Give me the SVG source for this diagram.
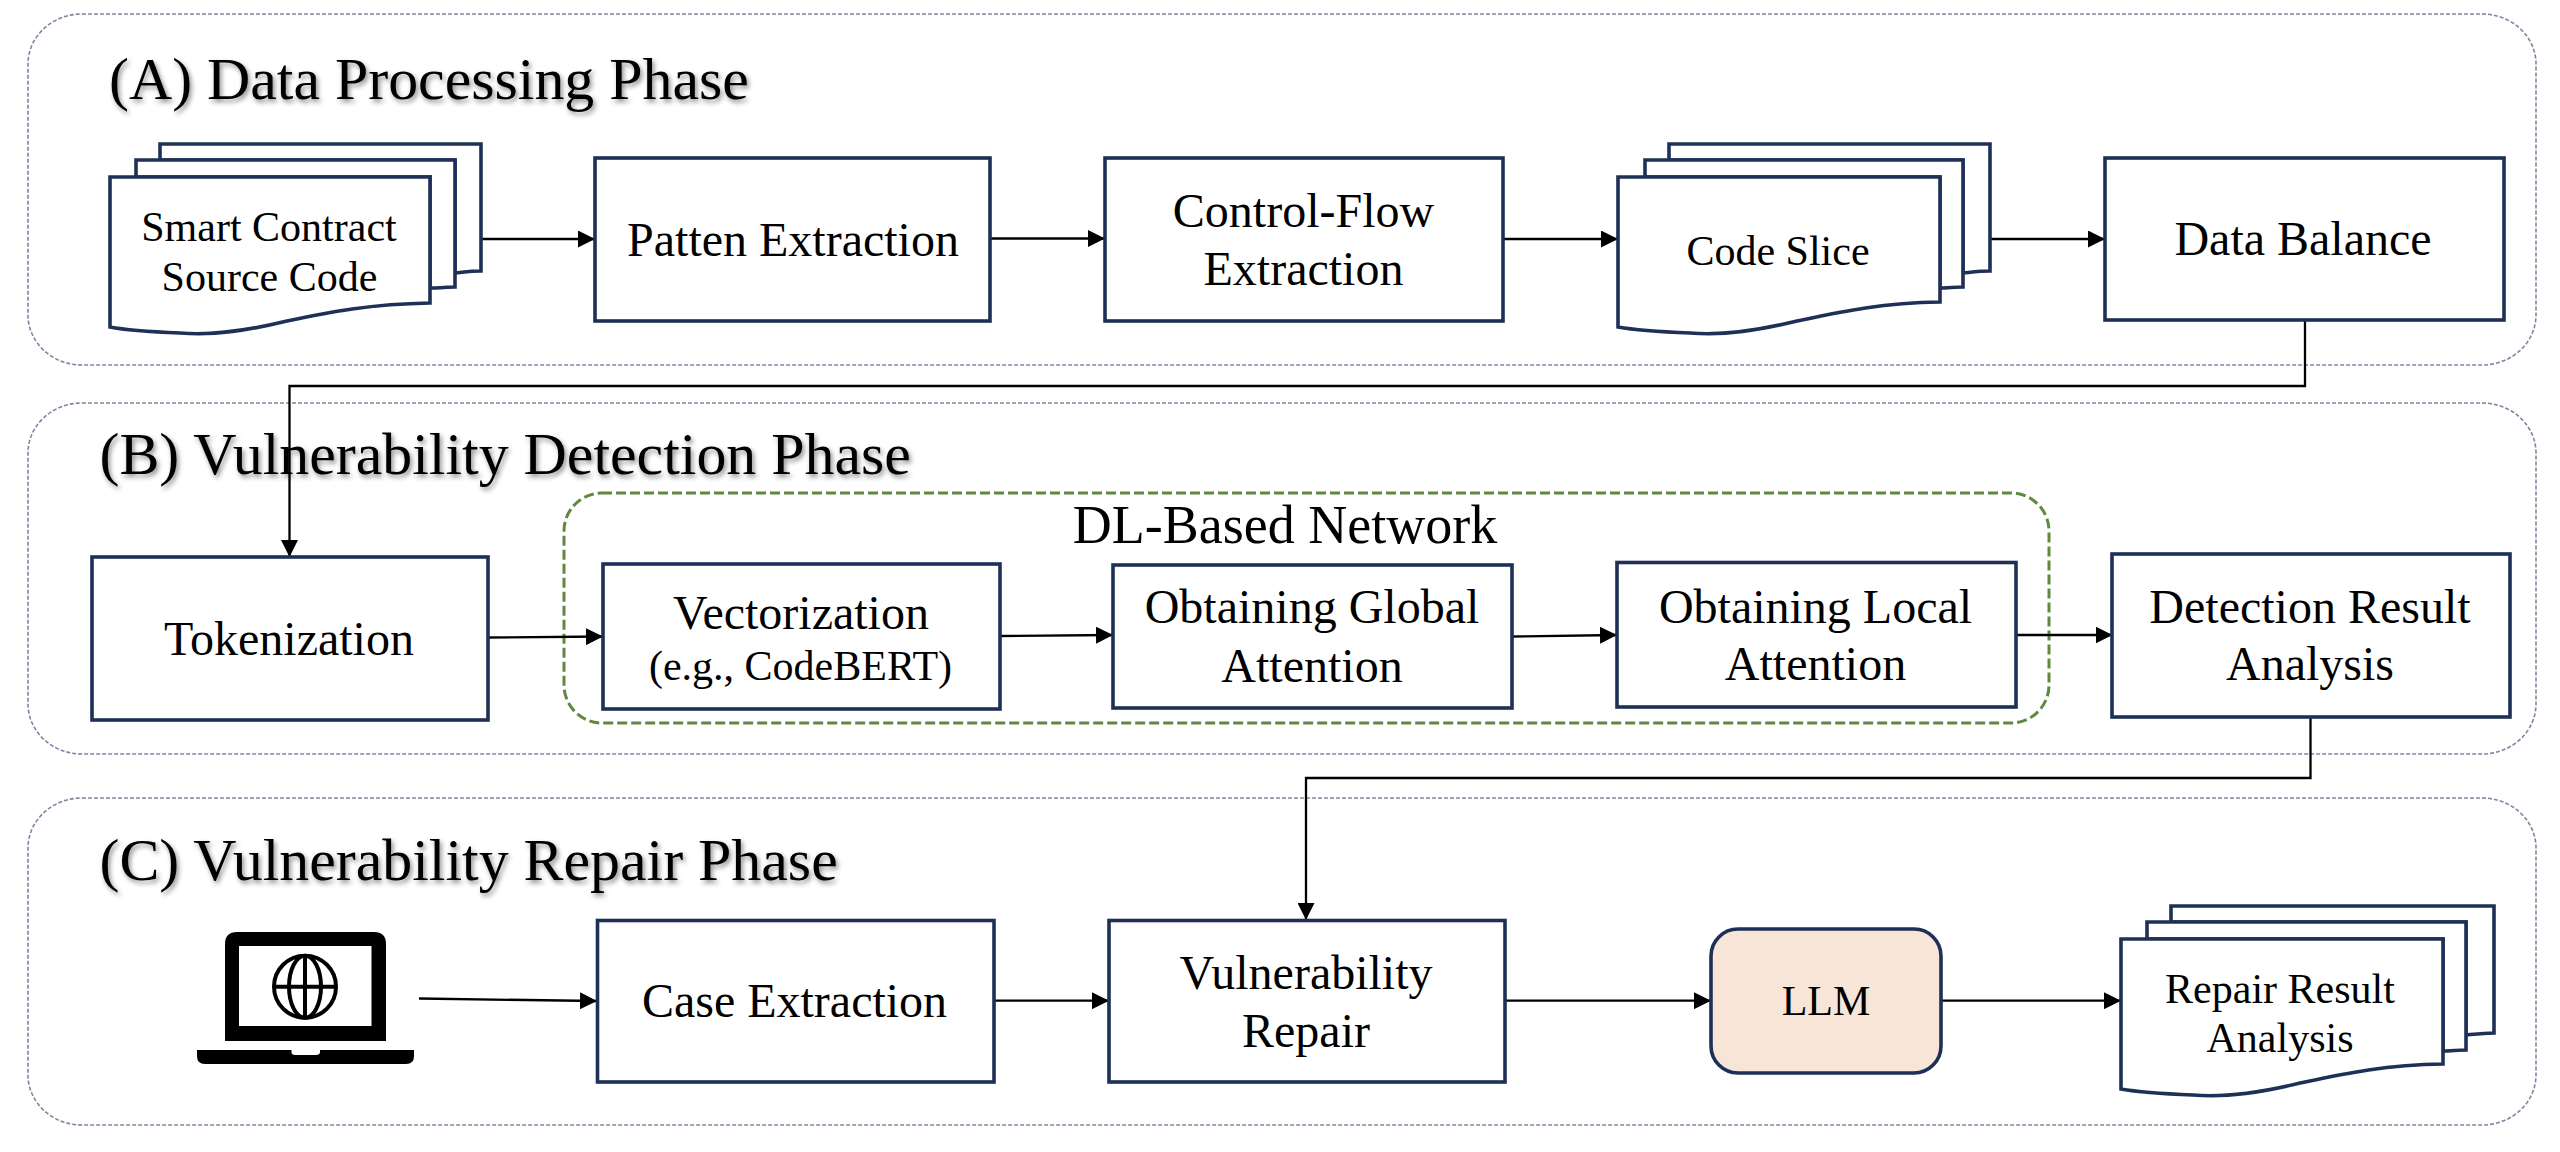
<svg xmlns="http://www.w3.org/2000/svg" width="2560" height="1152" viewBox="0 0 2560 1152">
<style>
text{font-family:"Liberation Serif","Times New Roman",serif;fill:#000;text-anchor:middle}
.t{font-size:59.850px;text-anchor:start;filter:url(#sh)}
.l{font-size:48px}
.s{font-size:42px}
.d{font-size:54px}
.panel{fill:none;stroke:#7f859f;stroke-width:1.6;stroke-dasharray:4 2}
.b{fill:#fff;stroke:#1f3056;stroke-width:3.6}
.dl{fill:none;stroke:#5f8a3e;stroke-width:3;stroke-dasharray:10 4}
.c{fill:none;stroke:#000;stroke-width:2.3;marker-end:url(#a)}
.k{fill:#000}
</style>
<defs>
<marker id="a" markerUnits="userSpaceOnUse" markerWidth="17" markerHeight="17" refX="17" refY="8.500" orient="auto"><path d="M0 0L17 8.500L0 17Z" fill="#000"/></marker>
<filter id="sh" x="-5%" y="-20%" width="110%" height="150%"><feDropShadow dx="2" dy="3" stdDeviation="2.5" flood-color="#000" flood-opacity="0.45"/></filter>
</defs>
<g id="panels">
<rect class="panel" x="28" y="14" width="2508" height="351" rx="54" ry="50"/>
<rect class="panel" x="28" y="403" width="2508" height="351" rx="54" ry="50"/>
<rect class="panel" x="28" y="798" width="2508" height="327" rx="54" ry="50"/>
<text class="t" x="109" y="99">(A) Data Processing Phase</text>
<text class="t" x="99.500" y="474">(B) Vulnerability Detection Phase</text>
<text class="t" x="99.500" y="880">(C) Vulnerability Repair Phase</text>
</g>
<g id="dl-network"><rect class="dl" x="564" y="493" width="1485" height="230" rx="38" ry="38"/><text class="d" x="1285" y="543">DL-Based Network</text></g>
<g id="connectors">
<path class="c" d="M481 239H595"/>
<path class="c" d="M990 238.500H1105"/>
<path class="c" d="M1503 239H1618"/>
<path class="c" d="M1990 239H2105"/>
<path class="c" d="M2305 320V386H289.500V557"/>
<path class="c" d="M488 637.500L603 636.500"/>
<path class="c" d="M1000 636L1113 635"/>
<path class="c" d="M1512 636.500L1617 635"/>
<path class="c" d="M2016 635H2112.500"/>
<path class="c" d="M2310.500 717V778H1306V920"/>
<path class="c" d="M419 998.500L597 1001"/>
<path class="c" d="M994 1000.700H1109"/>
<path class="c" d="M1505 1000.700H1711"/>
<path class="c" d="M1941 1000.700H2121"/>
</g>
<g id="source-code">
<path class="b" d="M160 144H481V271C470 271 465 272 455 273V160H160Z"/>
<path class="b" d="M136 160H455V287C447 287 440 288 430 288V177H136Z"/>
<path class="b" d="M110 177H430V303C370 304 330 312 287 321C250 330 215 336 180 333C155 332 130 331 110 327Z"/>
<text class="s" x="269" y="241">Smart Contract</text><text class="s" x="269.500" y="291">Source Code</text>
</g>
<g id="patten"><rect class="b" x="595" y="158" width="395" height="163"/><text class="l" x="793" y="256">Patten Extraction</text></g>
<g id="control-flow"><rect class="b" x="1105" y="158" width="398" height="163"/><text class="l" x="1303.500" y="227">Control-Flow</text><text class="l" x="1303.500" y="285">Extraction</text></g>
<g id="code-slice">
<path class="b" d="M1669 144H1990V271C1980 271 1973 272 1963 273V160H1669Z"/>
<path class="b" d="M1645 160H1963V287C1955 287 1948 288 1940 288V177H1645Z"/>
<path class="b" d="M1618 177H1940V302C1880 303 1840 312 1797 321C1760 330 1725 336 1690 333C1665 332 1640 331 1618 327Z"/>
<text class="s" x="1778" y="265">Code Slice</text>
</g>
<g id="data-balance"><rect class="b" x="2105" y="158" width="399" height="162"/><text class="l" x="2303" y="255">Data Balance</text></g>
<g id="tokenization"><rect class="b" x="92" y="557" width="396" height="163"/><text class="l" x="289" y="655">Tokenization</text></g>
<g id="vectorization"><rect class="b" x="603" y="564" width="397" height="145"/><text class="l" x="801" y="629">Vectorization</text><text class="s" x="800.500" y="680">(e.g., CodeBERT)</text></g>
<g id="global"><rect class="b" x="1113" y="565" width="399" height="143"/><text class="l" x="1312" y="623">Obtaining Global</text><text class="l" x="1312" y="681.500">Attention</text></g>
<g id="local"><rect class="b" x="1617" y="562.500" width="399" height="144.500"/><text class="l" x="1815.500" y="622.500">Obtaining Local</text><text class="l" x="1815.500" y="680">Attention</text></g>
<g id="detection"><rect class="b" x="2112" y="554" width="398" height="163"/><text class="l" x="2310" y="622.500">Detection Result</text><text class="l" x="2310" y="680">Analysis</text></g>
<g id="laptop">
<path class="k" d="M225 1041V944Q225 932 237 932H374Q386 932 386 944V1041Z"/>
<rect x="239" y="946" width="132.500" height="80" fill="#fff"/>
<g fill="none" stroke="#000" stroke-width="4"><ellipse cx="305" cy="986.700" rx="31" ry="31"/><ellipse cx="305" cy="986.700" rx="16" ry="31"/><path d="M305 955V1018M275 986.700H335"/></g>
<path class="k" d="M197 1050H291.500V1052Q291.500 1055 295 1055H316Q320 1055 320 1052V1050H414V1056Q414 1064 406 1064H205Q197 1064 197 1056Z"/>
</g>
<g id="case"><rect class="b" x="597.500" y="920.500" width="396.500" height="161.500"/><text class="l" x="794.500" y="1017">Case Extraction</text></g>
<g id="repair"><rect class="b" x="1109" y="920.500" width="396" height="161.500"/><text class="l" x="1306" y="989">Vulnerability</text><text class="l" x="1306" y="1047">Repair</text></g>
<g id="llm"><rect x="1711" y="929" width="230" height="144" rx="27" ry="27" fill="#f7e5d8" stroke="#1f3056" stroke-width="3.600"/><text class="s" x="1826" y="1015">LLM</text></g>
<g id="repair-result">
<path class="b" d="M2171 906H2494V1033C2484 1033 2476 1034 2466 1035V922H2171Z"/>
<path class="b" d="M2147 922H2466V1050C2458 1050 2451 1051 2443 1051V939H2147Z"/>
<path class="b" d="M2121 939H2443V1064C2383 1065 2343 1074 2300 1083C2263 1092 2228 1098 2193 1095C2168 1094 2143 1093 2121 1089Z"/>
<text class="s" x="2280" y="1003">Repair Result</text><text class="s" x="2280" y="1052">Analysis</text>
</g>
</svg>
